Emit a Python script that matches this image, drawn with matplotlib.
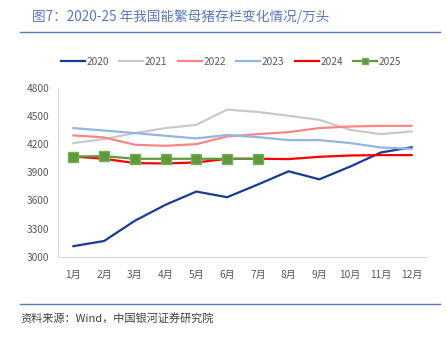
import matplotlib
matplotlib.use("Agg")
import matplotlib.pyplot as plt
from matplotlib.lines import Line2D

plt.rcParams['font.family'] = ['Noto Sans CJK SC', 'DejaVu Sans']

months = ['1月', '2月', '3月', '4月', '5月', '6月', '7月', '8月', '9月', '10月', '11月', '12月']
s2020 = [3115, 3170, 3385, 3555, 3695, 3635, 3770, 3910, 3825, 3960, 4110, 4165]
s2021 = [4210, 4252, 4316, 4369, 4404, 4565, 4540, 4500, 4457, 4350, 4305, 4333]
s2022 = [4291, 4270, 4192, 4181, 4199, 4280, 4305, 4326, 4369, 4386, 4393, 4393]
s2023 = [4369, 4343, 4316, 4287, 4259, 4296, 4273, 4241, 4241, 4210, 4163, 4149]
s2024 = [4067, 4043, 3997, 3993, 4004, 4043, 4043, 4040, 4064, 4078, 4082, 4082]
s2025 = [4067, 4071, 4043, 4043, 4043, 4043, 4043]
yticks = [3000, 3300, 3600, 3900, 4200, 4500, 4800]

W, H = 447, 337
fig = plt.figure(figsize=(W/100, H/100), dpi=100)
ax = fig.add_axes([58/W, 1-257/H, (427-58)/W, (257-87.5)/H])

x = list(range(1, 13))
ax.plot(x, s2020, color='#1a3a94', lw=1.6, label='2020')
ax.plot(x, s2021, color='#c9c9c9', lw=1.6, label='2021')
ax.plot(x, s2022, color='#ff8585', lw=1.6, label='2022')
ax.plot(x, s2023, color='#92b5e2', lw=1.6, label='2023')
ax.plot(x, s2024, color='#ff0000', lw=1.6, label='2024')
ax.plot(x[:len(s2025)], s2025, color='#5e9a3c', lw=1.6, marker='s', ms=7,
        markerfacecolor='#5e9a3c', markeredgecolor='#78ad58', label='2025')

ax.set_xlim(0.5, 12.5)
ax.set_ylim(3000, 4800)
ax.set_xticks(x)
ax.set_xticklabels(months)
ax.set_yticks(yticks)
ax.tick_params(axis='both', length=0, labelsize=7.3, colors='#595959', pad=6)
ax.tick_params(axis='x', pad=9)
for s in ['top', 'right']:
    ax.spines[s].set_visible(False)
for s in ['left', 'bottom']:
    ax.spines[s].set_color('#d9d9d9')
    ax.spines[s].set_linewidth(0.8)

leg = fig.legend(*ax.get_legend_handles_labels(), loc='center',
                 bbox_to_anchor=(231/W, 1-62/H),
                 ncol=6, frameon=False, fontsize=7.3, handlelength=2.4, handletextpad=0.15,
                 columnspacing=1.0, labelcolor='#595959', markerscale=0.55)

fig.text(32/W, 1-17/H, '图7：2020-25 年我国能繁母猪存栏变化情况/万头', fontsize=9.8,
         color='#5a7bb8', va='center', ha='left')
fig.add_artist(Line2D([20/W, 440/W], [1-32/H, 1-32/H], color='#5a7bb8', lw=1.0))
fig.add_artist(Line2D([20/W, 440/W], [1-304/H, 1-304/H], color='#5a7bb8', lw=1.0))
fig.text(20/W, 1-318/H, '资料来源：Wind，中国银河证券研究院', fontsize=8, style='italic',
         color='#404040', va='center', ha='left')

fig.savefig('out.png', dpi=100)
